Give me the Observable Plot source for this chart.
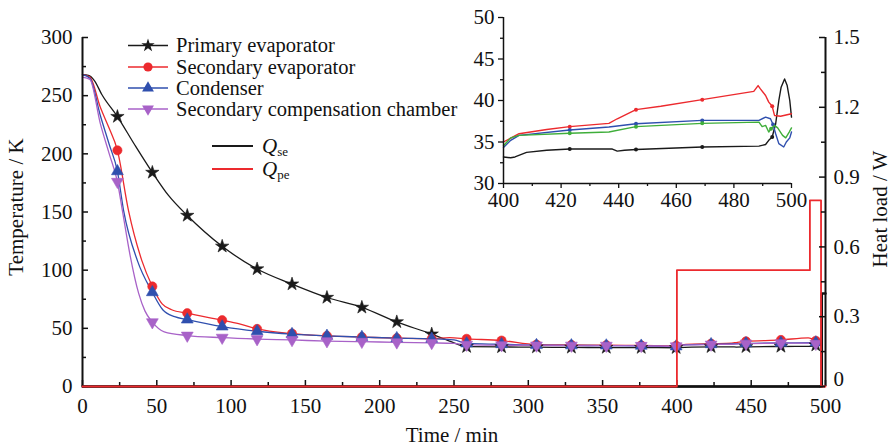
<!DOCTYPE html>
<html><head><meta charset="utf-8">
<script src="https://cdn.jsdelivr.net/npm/d3@7"></script>
<script src="https://cdn.jsdelivr.net/npm/@observablehq/plot@0.6"></script>
<style>
html,body{margin:0;padding:0;background:#fff;}
#wrap{position:relative;width:891px;height:446px;overflow:hidden;background:#fff;font-family:'Liberation Serif','Tinos','Times New Roman',Times,'Noto Serif','DejaVu Serif',FreeSerif,serif;}
#wrap > svg{position:absolute;left:0;top:0;}
#wrap svg text{font-family:'Liberation Serif','Tinos','Times New Roman',Times,'Noto Serif','DejaVu Serif',FreeSerif,serif;}
</style></head><body><div id="wrap"></div>
<script>
const FONT = "'Liberation Serif','Tinos','Times New Roman',Times,'Noto Serif','DejaVu Serif',FreeSerif,serif";

// ---------- data ----------
const seriesNames = ["Primary evaporator","Secondary evaporator","Condenser","Secondary compensation chamber"];
const seriesColors = ["#1a1a1a","#ec2a2e","#2f4fae","#a862c8"];
const insetColors = ["#1a1a1a","#ec2a2e","#2f4fae","#3fae3a"];
const markTimes = [23.5,47,70.5,94,117.5,141,164.5,188,211.5,235,258.5,282,305.5,329,352.5,376,399.5,423,446.5,470,493.5];

const primaryTime = [0,4,8,13,23.5,35,47,58,70.5,94,117.5,141,164.5,188,211.5,235,247,258.5,282,305.5,329,352.5,376,399.5,410,423,437,440,446.5,470,490,493.5];
const primaryTemp = [268,267.5,263,251,232,208,184,164,147,120.5,101,88,76.5,68,55.5,45,39,34.2,34,33.8,33.6,33.5,33.4,33.3,33.9,34.1,34.1,33.9,34.1,34.4,34.5,35.5];

const secEvapTime = [0,5,12,17.6,23.5,31,40,47,53.6,60,70.5,94,105,117.5,141,164.5,188,211.5,235,247,258.5,282,305.5,329,352.5,376,399.5,406,423,437,440,446.5,470,488.4,493.5];
const secEvapTemp = [268,266,240,223,203,151,108,86,71,66,63,57,54,49.5,45.5,43.5,42.5,41.5,41,42,41,39.5,36,35.7,35.5,35.3,35,36.2,36.8,37.3,37.8,38.8,40,41.8,39.3];

const condTime = [0,5,12,18,23.5,27.7,37,47,54,62,70.5,94,117.5,141,164.5,188,211.5,235,250,258.5,282,305.5,329,352.5,376,399.5,405,423,437,446.5,470,490,493.5];
const condTemp = [268,265,233,208,185,151,108,81,66,60,57.5,51.5,47.5,45,43.5,42.5,41.5,41,40,37,36.3,35.5,35.3,35.2,35,34.4,35.8,36.3,36.7,37.1,37.5,37.6,37.8];

const compTime = [0,5,12,18,23.5,27,32,37.8,42,47,55,70.5,94,117.5,141,164.5,188,211.5,235,250,258.5,282,305.5,329,352.5,376,399.5,403,406,423,437,446.5,470,490,493.5];
const compTemp = [266,264,226,200,176,150,113,80,65,55.3,47,43.8,42,40.8,40,39,38.5,38,37.5,37,36,35.5,35.3,35.2,35.1,35,34.6,35.3,35.8,36.1,36.2,36.9,37.2,37.3,36.8];

// heat loads (W)
const qseTime = [0,497.5,497.5,500];
const qseLoad = [0,0,0.4,0.4];
const qpeTime = [0,400,400,489.5,489.5,497,497,500];
const qpeLoad = [0,0,0.5,0.5,0.8,0.8,0,0];

// inset (400-500 min)
const inPrimTime = [400,402.5,404,408,415,423,437.8,439.5,442,446,469,488.7,491,492.1,493.3,494.5,495.6,496.4,497.6,498.5,499.4,500];
const inPrimTemp = [33.2,33.1,33.2,33.75,34.0,34.15,34.15,33.9,34.0,34.1,34.4,34.5,34.7,35.2,35.6,37.2,40,41.6,42.6,41.8,40,38];
const inEvapTime = [400,405.4,415,423,436.6,439.5,446,454.6,469,486.9,488.4,489.2,491,492.1,493.3,494.1,496.2,500];
const inEvapTemp = [35.0,36.0,36.5,36.85,37.25,37.8,38.9,39.3,40.1,41.1,41.8,41.4,40.6,39.8,39.3,38.2,38.1,38.4];
const inCondTime = [400,402.5,405.4,423,436.6,446,469,488.7,491,492.7,493.6,494.5,495.6,497.3,498.2,499.4,500];
const inCondTemp = [34.35,35.2,35.8,36.45,36.8,37.2,37.6,37.6,38.0,37.8,37.1,36,34.8,34.4,35,35.5,36.2];
const inCompTime = [400,402.5,405.4,423,436.6,446,469,488.7,489.8,491,492.1,492.9,494.1,495.2,496.9,498,499.2,500];
const inCompTemp = [34.55,35.5,35.8,36.05,36.2,36.85,37.25,37.4,36.85,37.0,36.2,36.6,37.0,36.7,35.8,35.5,36.2,36.7];
const insetMarkTimes = [423,446,469,493.3];

// tick values
const tempTicks = [0,50,100,150,200,250,300];
const tempMinor = [25,75,125,175,225,275];
const timeTicks = [0,50,100,150,200,250,300,350,400,450,500];
const timeMinor = [25,75,125,175,225,275,325,375,425,475];
const loadTicks = [0.3,0.6,0.9,1.2,1.5];
const loadZero = [0];
const loadMinor = [0.15,0.45,0.75,1.05,1.35];
const inTimeTicks = [400,420,440,460,480,500];
const inTimeMinor = [410,430,450,470,490];
const inTempTicks = [30,35,40,45,50];
const inTempMinor = [32.5,37.5,42.5,47.5];

// ---------- helpers ----------
const sqrt3 = Math.sqrt(3);
const triangleDown = {draw(context, size) {
  const y = -Math.sqrt(size / (sqrt3 * 3));
  context.moveTo(0, -y * 2);
  context.lineTo(-sqrt3 * y, y);
  context.lineTo(sqrt3 * y, y);
  context.closePath();
}};
const symbols = ["star","circle","triangle",triangleDown];
const d3symbols = [d3.symbolStar, d3.symbolCircle, d3.symbolTriangle, triangleDown];
const radii = [4.2,4.6,4.4,4.4];

const rows = (time, vals) => time.map((t,i)=>({t, v: vals[i]}));
const mainSeries = [rows(primaryTime,primaryTemp), rows(secEvapTime,secEvapTemp), rows(condTime,condTemp), rows(compTime,compTemp)];
const insetSeries = [rows(inPrimTime,inPrimTemp), rows(inEvapTime,inEvapTemp), rows(inCondTime,inCondTemp), rows(inCompTime,inCompTemp)];
const nearestMarks = (r, times) => times.map(m => r.reduce((a,b)=>Math.abs(b.t-m)<Math.abs(a.t-m)?b:a));

const W = 891, H = 446, ML = 82, MR = 66, MT = 37, MB = 60;
const PW = W - ML - MR, PH = H - MT - MB;
const wrap = document.getElementById("wrap");
const baseStyle = {fontFamily: FONT, fontSize: "21px", background: "transparent", color: "#111"};

// ---------- main plot ----------
const mainMarks = [];
mainSeries.forEach((s, i) => {
  mainMarks.push(Plot.line(s, {x: "t", y: "v", stroke: seriesColors[i], strokeWidth: 1.3, curve: "monotone-x"}));
});
mainSeries.forEach((s, i) => {
  mainMarks.push(Plot.dot(s.filter(d => markTimes.includes(d.t)), {x: "t", y: "v", symbol: symbols[i], r: radii[i], fill: seriesColors[i], stroke: seriesColors[i], strokeWidth: 0.6}));
});
const main = Plot.plot({
  width: W, height: H, marginLeft: ML, marginRight: MR, marginTop: MT, marginBottom: MB,
  style: baseStyle,
  x: {domain: [0, 500], axis: null},
  y: {domain: [0, 300], axis: null},
  marks: [
    ...mainMarks,
    Plot.axisY({ticks: tempTicks, tickSize: 0, tickPadding: 10, label: null}),
    Plot.axisX({ticks: timeTicks, tickSize: 0, tickPadding: 12, label: null}),
    Plot.tickY(tempTicks, {y: d => d, insetRight: PW - 6, stroke: "#111", strokeWidth: 1.5}),
    Plot.tickY(tempMinor, {y: d => d, insetRight: PW - 4, stroke: "#111", strokeWidth: 1.5}),
    Plot.tickX(timeTicks, {x: d => d, insetTop: PH - 6, stroke: "#111", strokeWidth: 1.5}),
    Plot.tickX(timeMinor, {x: d => d, insetTop: PH - 4, stroke: "#111", strokeWidth: 1.5}),
    Plot.ruleX([0], {stroke: "#111", strokeWidth: 2}),
    Plot.ruleY([0], {stroke: "#111", strokeWidth: 2})
  ]
});
wrap.appendChild(main);

// ---------- heat load overlay ----------
const qplot = Plot.plot({
  width: W, height: H, marginLeft: ML, marginRight: MR, marginTop: MT, marginBottom: MB,
  style: baseStyle,
  x: {domain: [0, 500], axis: null},
  y: {domain: [0, 1.5], axis: null},
  marks: [
    Plot.line(rows(qseTime, qseLoad), {x: "t", y: "v", stroke: "#111", strokeWidth: 2.5}),
    Plot.ruleX([500], {stroke: "#111", strokeWidth: 2}),
    Plot.line(rows(qpeTime, qpeLoad), {x: "t", y: "v", stroke: "#ec2a2e", strokeWidth: 1.8}),
    Plot.axisY({anchor: "right", ticks: loadTicks, tickSize: 0, tickPadding: 8, tickFormat: d => String(d), label: null}),
    Plot.axisY({anchor: "right", ticks: loadZero, tickSize: 0, tickPadding: 8, dy: -7, tickFormat: d => String(d), label: null}),
    Plot.tickY([...loadZero, ...loadTicks], {y: d => d, insetLeft: PW - 6, stroke: "#111", strokeWidth: 1.5}),
    Plot.tickY(loadMinor, {y: d => d, insetLeft: PW - 4, stroke: "#111", strokeWidth: 1.5})
  ]
});
wrap.appendChild(qplot);

// ---------- inset ----------
const IL = 460, IW = 360, IH = 215;
const insetMarks = [];
insetSeries.forEach((s, i) => {
  insetMarks.push(Plot.line(s, {x: "t", y: "v", stroke: insetColors[i], strokeWidth: 1.4}));
  insetMarks.push(Plot.dot(nearestMarks(s, insetMarkTimes), {x: "t", y: "v", r: 2, fill: insetColors[i]}));
});
const inset = Plot.plot({
  width: IW, height: IH, marginLeft: 43, marginRight: IW - 331, marginTop: 17, marginBottom: 32,
  style: baseStyle,
  x: {domain: [400, 500], axis: null},
  y: {domain: [30, 50], axis: null},
  marks: [
    ...insetMarks,
    Plot.axisX({ticks: inTimeTicks, tickSize: 5, tickPadding: 4, label: null, strokeWidth: 1.3}),
    Plot.axisX({ticks: inTimeMinor, tickSize: 3, tickFormat: () => "", label: null, strokeWidth: 1.3}),
    Plot.axisY({ticks: inTempTicks, tickSize: 5, tickPadding: 4, label: null, strokeWidth: 1.3}),
    Plot.axisY({ticks: inTempMinor, tickSize: 3, tickFormat: () => "", label: null, strokeWidth: 1.3}),
    Plot.ruleX([400], {stroke: "#111", strokeWidth: 1.5}),
    Plot.ruleY([30], {stroke: "#111", strokeWidth: 1.5})
  ]
});
inset.style.left = IL + "px";
wrap.appendChild(inset);

// ---------- legend & axis titles ----------
const ov = d3.create("svg").attr("width", W).attr("height", H)
  .attr("font-family", FONT).style("font-family", FONT).style("overflow", "visible");
const legY = [45.5, 67, 88, 109];
seriesNames.forEach((name, i) => {
  const y = legY[i];
  ov.append("line").attr("x1", 128).attr("x2", 168).attr("y1", y).attr("y2", y)
    .attr("stroke", seriesColors[i]).attr("stroke-width", 1.3);
  ov.append("path").attr("d", d3.symbol().type(d3symbols[i]).size(Math.PI * radii[i] * radii[i])())
    .attr("transform", `translate(148,${y})`).attr("fill", seriesColors[i]);
  ov.append("text").attr("x", 176).attr("y", y + 6.5).attr("font-size", 20.5).attr("fill", "#111").text(name);
});
const qNames = [["se","#1a1a1a",146],["pe","#ec2a2e",169]];
qNames.forEach(([sub, col, y]) => {
  ov.append("line").attr("x1", 212).attr("x2", 253).attr("y1", y).attr("y2", y).attr("stroke", col).attr("stroke-width", 1.8);
  const t = ov.append("text").attr("x", 262).attr("y", y + 6.5).attr("font-size", 21).attr("fill", "#111");
  t.append("tspan").attr("font-style", "italic").text("Q");
  t.append("tspan").attr("font-size", 13).attr("dy", 3).text(sub);
});
ov.append("text").attr("transform", "translate(23,207) rotate(-90)").attr("text-anchor", "middle")
  .attr("font-size", 21).attr("fill", "#111").text("Temperature / K");
ov.append("text").attr("x", 452).attr("y", 442).attr("text-anchor", "middle")
  .attr("font-size", 21).attr("fill", "#111").text("Time / min");
ov.append("text").attr("transform", "translate(887,209) rotate(-90)").attr("text-anchor", "middle")
  .attr("font-size", 21).attr("fill", "#111").text("Heat load / W");
wrap.appendChild(ov.node());
</script></body></html>
